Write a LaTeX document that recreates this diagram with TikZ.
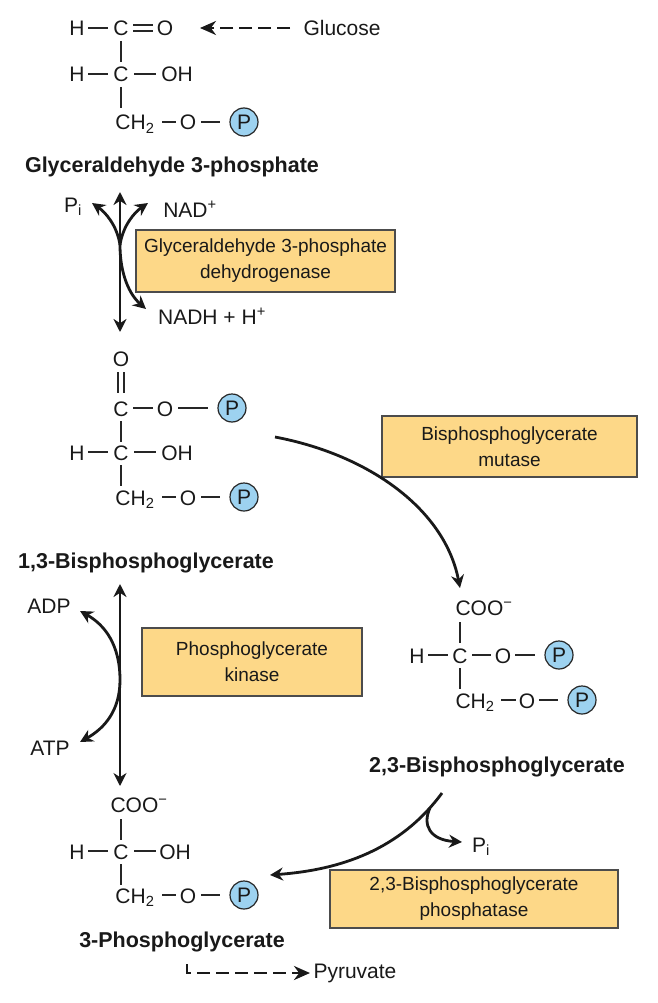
\documentclass[tikz,border=0pt]{standalone}
\usepackage{fontspec}
\setmainfont{Liberation Sans}
\usetikzlibrary{arrows.meta}
\begin{document}
\begin{tikzpicture}[x=1pt,y=-1pt,
  every node/.style={font=\fontsize{21}{24}\selectfont,text=black!90},
  atm/.style={inner sep=0pt,anchor=base},
  lbl/.style={font=\fontsize{21.5}{24}\selectfont\bfseries},
  bond/.style={line width=1.2pt,black!85},
  ph/.style={circle,draw=black!85,line width=1.2pt,fill=pcol,inner sep=0pt,minimum size=28pt},
  enz/.style={draw=black!70,line width=1.2pt,fill=boxcol,align=center,inner sep=0pt,font=\fontsize{19}{26}\selectfont},
  arr/.style={line width=2.8pt,black!90,-{Stealth[length=13pt,width=13pt]}},
  darr/.style={line width=2.8pt,black!90,{Stealth[length=13pt,width=13pt]}-{Stealth[length=13pt,width=13pt]}},
  dsh/.style={line width=2.8pt,black!90,dash pattern=on 13pt off 6pt}
]
\definecolor{pcol}{HTML}{9DD2F0}
\definecolor{boxcol}{HTML}{FDD888}
\useasboundingbox (0,0) rectangle (657,1003);

% ---- Glyceraldehyde 3-phosphate
\node[atm] (h1) at (77,36) {H};
\node[atm] (c1) at (121,36) {C};
\node[atm] (o1) at (165,36) {O};
\node[atm] (h2) at (77,82) {H};
\node[atm] (c2) at (121,82) {C};
\node[atm] (oh2) at (177,82) {OH};
\node[atm] (ch3) at (135,130) {CH\textsubscript{2}};
\node[atm] (o3) at (188,130) {O};
\node[ph] (p3) at (244,122) {P};
\draw[bond] (88,28)--(108,28);
\draw[bond] (133,25)--(153,25) (133,31)--(153,31);
\draw[bond] (121,41)--(121,62) (121,87)--(121,108);
\draw[bond] (88,74)--(108,74) (134,74)--(156,74);
\draw[bond] (162,122)--(176,122) (201,122)--(220,122);
\draw[dsh,-{Stealth[length=16pt,width=14pt]}] (290,28)--(200,28);
\node[anchor=west] (glc) at (300,28) {Glucose};
\node[lbl] (g3p) at (172,167) {Glyceraldehyde 3-phosphate};

% reaction 1
\coordinate (r1t) at (120,192);
\coordinate (r1b) at (120,332);
\draw[darr] (r1t)--(r1b);
\node (pi1) at (73,207) {P\textsubscript{i}};
\node (nad) at (190,209) {NAD\textsuperscript{+}};
\node (nadh) at (212,316) {NADH + H\textsuperscript{+}};
\draw[arr] (120,245) .. controls (117,225) and (105,212) .. (92,203);
\draw[arr] (120,245) .. controls (123,225) and (135,212) .. (148,203);
\draw[arr] (120,245) .. controls (120,275) and (130,295) .. (146,309);
\node[enz,minimum width=259pt,minimum height=62pt] (e1) at (265.5,261) {Glyceraldehyde 3-phosphate\\dehydrogenase};

% ---- 1,3-Bisphosphoglycerate
\node[atm] (o0b) at (121,366) {O};
\node[atm] (c4) at (121,416) {C};
\node[atm] (o4) at (165,416) {O};
\node[ph] (p4) at (232,408) {P};
\node[atm] (h5) at (77,460) {H};
\node[atm] (c5) at (121,460) {C};
\node[atm] (oh5) at (177,460) {OH};
\node[atm] (ch6) at (135,505) {CH\textsubscript{2}};
\node[atm] (o6) at (188,505) {O};
\node[ph] (p6) at (244,497) {P};
\draw[bond] (118,372)--(118,393) (124,372)--(124,393);
\draw[bond] (133,408)--(153,408) (178,408)--(208,408);
\draw[bond] (121,421)--(121,442) (121,465)--(121,486);
\draw[bond] (88,452)--(108,452) (134,452)--(156,452);
\draw[bond] (162,497)--(176,497) (201,497)--(220,497);
\node[lbl] (bpg13) at (146,563) {1,3-Bisphosphoglycerate};

% reaction 2
\coordinate (r2t) at (120,584);
\coordinate (r2b) at (120,786);
\draw[darr] (r2t)--(r2b);
\node (adp) at (49,606) {ADP};
\node (atp) at (50,748) {ATP};
\draw[arr] (120,680) .. controls (120,645) and (105,625) .. (80,611);
\draw[arr] (120,680) .. controls (120,710) and (105,728) .. (80,742);
\node[enz,minimum width=220pt,minimum height=68pt] (e2) at (252,662) {Phosphoglycerate\\kinase};

% ---- 3-Phosphoglycerate
\node[atm] (coo7) at (139,812) {COO\textsuperscript{−}};
\node[atm] (h8) at (77,859) {H};
\node[atm] (c8) at (121,859) {C};
\node[atm] (oh8) at (175,859) {OH};
\node[atm] (ch9) at (135,903) {CH\textsubscript{2}};
\node[atm] (o9) at (188,903) {O};
\node[ph] (p9) at (244,895) {P};
\draw[bond] (121,819)--(121,840) (121,864)--(121,885);
\draw[bond] (88,851)--(108,851) (134,851)--(156,851);
\draw[bond] (162,895)--(176,895) (201,895)--(220,895);
\node[lbl] (pg3) at (182,942) {3-Phosphoglycerate};
\coordinate (pd) at (187,964);
\node[anchor=west] (pyr) at (310,973) {Pyruvate};
\draw[dsh,-{Stealth[length=16pt,width=14pt]}] (pd)--(187,973)--(pyr.west);

% ---- mutase
\node[enz,minimum width=255pt,minimum height=61pt] (e3) at (509.5,446.5) {Bisphosphoglycerate\\mutase};
\draw[arr] (275,437) .. controls (370,455) and (445,510) .. (460,588);

% ---- 2,3-Bisphosphoglycerate
\node[atm] (coo10) at (484,615) {COO\textsuperscript{−}};
\node[atm] (h11) at (417,663) {H};
\node[atm] (c11) at (460,663) {C};
\node[atm] (o11) at (503,663) {O};
\node[ph] (p11) at (559,655) {P};
\node[atm] (ch12) at (475,708) {CH\textsubscript{2}};
\node[atm] (o12) at (527,708) {O};
\node[ph] (p12) at (582,700) {P};
\draw[bond] (460,622)--(460,643) (460,668)--(460,689);
\draw[bond] (428,655)--(448,655) (472,655)--(491,655) (515,655)--(535,655);
\draw[bond] (501,700)--(516,700) (539,700)--(558,700);
\node[lbl] (bpg23) at (497,767) {2,3-Bisphosphoglycerate};

% ---- phosphatase
\draw[arr] (442,793) .. controls (400,850) and (340,870) .. (270,875);
\draw[arr] (430,808) .. controls (422,825) and (430,840) .. (462,842);
\node (pi2) at (481,847) {P\textsubscript{i}};
\node[enz,minimum width=288pt,minimum height=58pt] (e4) at (474,899) {2,3-Bisphosphoglycerate\\phosphatase};
\end{tikzpicture}
\end{document}
